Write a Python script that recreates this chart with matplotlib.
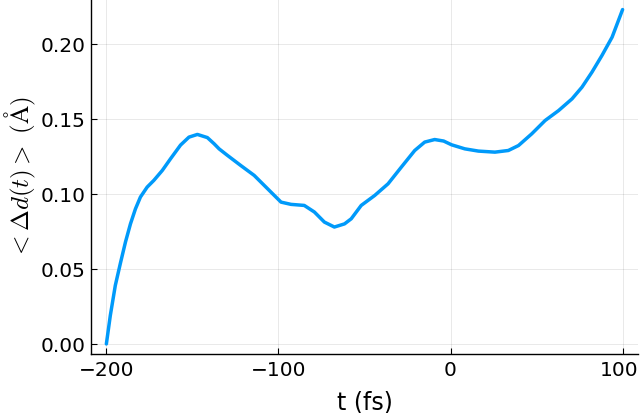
import matplotlib
matplotlib.use("Agg")
import matplotlib.pyplot as plt
from matplotlib.transforms import ScaledTranslation

# Data
t_fs = [-200, -197.7, -194.8, -191.8, -188.9, -186, -183.1, -180.2, -176.3, -172.4,
        -167.5, -162.7, -156.9, -152, -147.1, -141.3, -137.4, -134.5, -129.6,
        -121.9, -114.1, -106.3, -98.5, -92.7, -85, -79.1, -73.3, -67.5, -61.6,
        -57.7, -51.9, -44.1, -36.3, -28.6, -20.8, -15, -9.2, -4, 0.6, 8.3, 16.2,
        25.8, 33.6, 39.5, 47.2, 55, 62.8, 70.6, 76.4, 82.2, 88, 93.9, 100]
delta_d = [0.0, 0.019, 0.039, 0.054, 0.0679, 0.080, 0.090, 0.0979, 0.1045, 0.109,
           0.1156, 0.1234, 0.1325, 0.1378, 0.1396, 0.1375, 0.1334, 0.1300, 0.1256,
           0.1189, 0.1123, 0.1034, 0.0945, 0.0930, 0.0923, 0.0879, 0.0812, 0.0779,
           0.0800, 0.0834, 0.0923, 0.0989, 0.1067, 0.1178, 0.1289, 0.1345, 0.1362,
           0.1352, 0.1327, 0.130, 0.1285, 0.1278, 0.1289, 0.1322, 0.140, 0.1489,
           0.1555, 0.1633, 0.1711, 0.1811, 0.1922, 0.2044, 0.2228]
x_ticks = [-200, -100, 0, 100]
x_tick_labels = ["\u2212200", "\u2212100", "0", "100"]
y_ticks = [0.00, 0.05, 0.10, 0.15, 0.20]
y_tick_labels = ["0.00", "0.05", "0.10", "0.15", "0.20"]

plt.rcParams['font.family'] = ['DejaVu Sans']
plt.rcParams['mathtext.fontset'] = 'cm'

fig = plt.figure(figsize=(6.4, 4.14), dpi=100)
ax = fig.add_axes([0.142, 0.1425, 0.855, 0.857])

ax.plot(t_fs, delta_d, color='#009AFA', lw=2.5, solid_capstyle='round',
        solid_joinstyle='round', zorder=3)

ax.set_xlim(-209, 109)
ax.set_ylim(-0.0067, 0.2297)
ax.set_xticks(x_ticks)
ax.set_xticklabels(x_tick_labels)
ax.set_yticks(y_ticks)
ax.set_yticklabels(y_tick_labels)

ax.grid(True, color='black', alpha=0.1, lw=0.6)
for s in ['top', 'right']:
    ax.spines[s].set_visible(False)
for s in ['left', 'bottom']:
    ax.spines[s].set_linewidth(1.0)
ax.tick_params(direction='in', length=4, width=0.8, labelsize=14.5, pad=4)

# nudge the last x tick label slightly left so it stays inside the canvas
last = ax.get_xticklabels()[-1]
last.set_transform(last.get_transform() + ScaledTranslation(-3 / 100, 0, fig.dpi_scale_trans))

ax.set_xlabel("t (fs)", fontsize=17, labelpad=8)
ax.set_ylabel(r"$<\Delta d(t)>\ (\mathrm{\AA})$", fontsize=18, labelpad=2)

fig.savefig("out.png", dpi=100)
